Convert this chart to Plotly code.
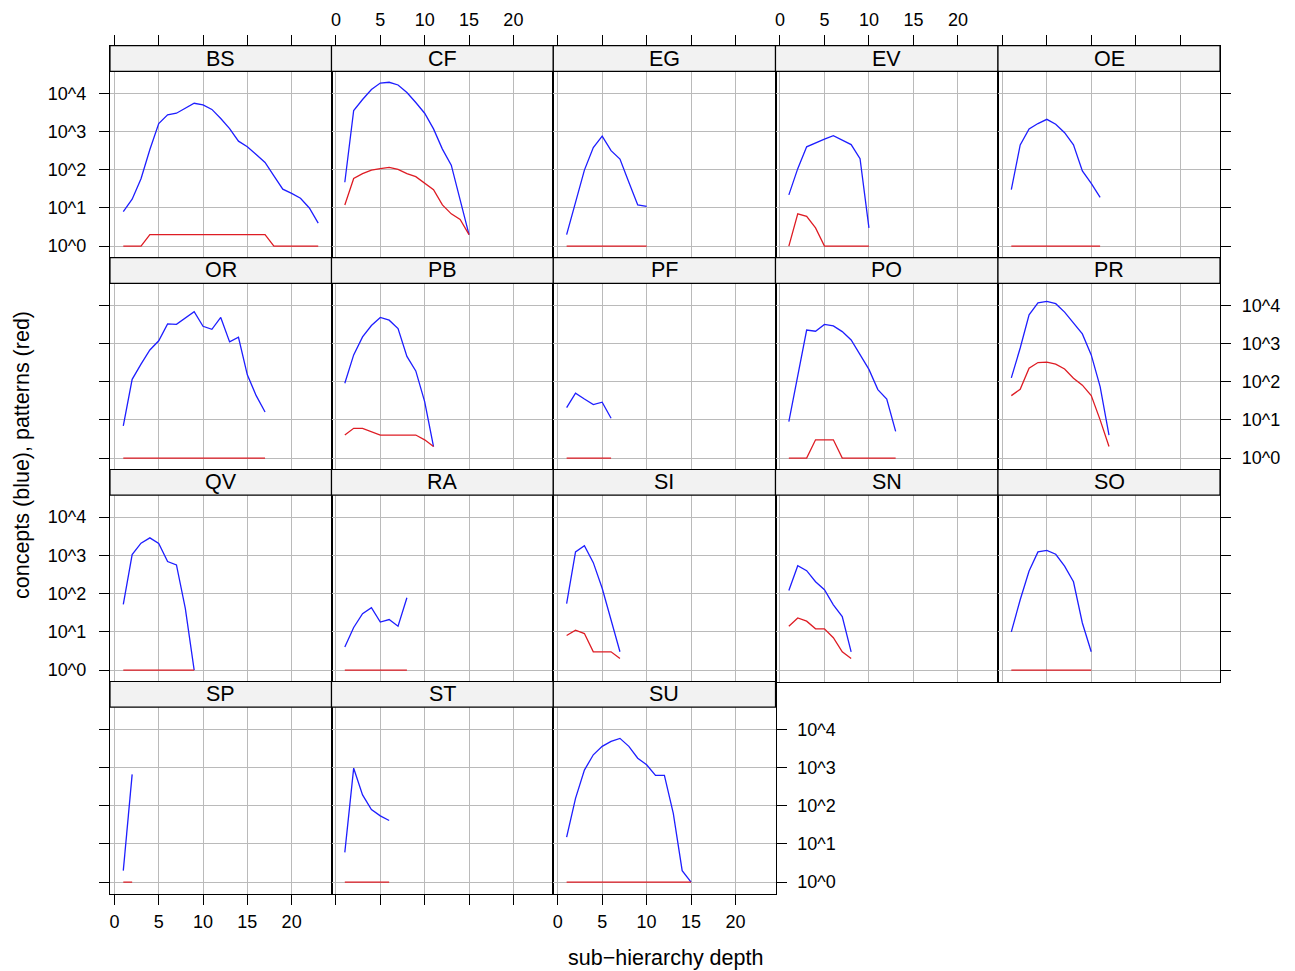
import plotly.graph_objects as go

W, H = 1295, 971

# ---------------- data (counts per sub-hierarchy depth 1..n) ----------------
panel_names = ["BS", "CF", "EG", "EV", "OE",
               "OR", "PB", "PF", "PO", "PR",
               "QV", "RA", "SI", "SN", "SO",
               "SP", "ST", "SU"]

BS_concepts = [8, 17, 58, 340, 1620, 2750, 3020, 4070, 5500, 5010, 3800, 2190, 1200, 560, 400, 250, 155, 69, 31, 24, 18, 10, 4]
BS_patterns = [1, 1, 1, 2, 2, 2, 2, 2, 2, 2, 2, 2, 2, 2, 2, 2, 2, 1, 1, 1, 1, 1, 1]
CF_concepts = [47, 3550, 6900, 12600, 18600, 19500, 16600, 10500, 5750, 3020, 1175, 347, 132, 17, 2]
CF_patterns = [12, 59, 79, 98, 107, 115, 102, 79, 66, 44, 30, 12, 7, 5, 2]
EG_concepts = [2, 14, 98, 380, 760, 316, 190, 47, 12, 11]
EG_patterns = [1, 1, 1, 1, 1, 1, 1, 1, 1, 1]
EV_concepts = [22, 107, 398, 513, 631, 776, 603, 457, 195, 3]
EV_patterns = [1, 7, 6, 3, 1, 1, 1, 1, 1, 1]
OE_concepts = [30, 447, 1175, 1620, 2090, 1550, 933, 447, 93, 44, 19]
OE_patterns = [1, 1, 1, 1, 1, 1, 1, 1, 1, 1, 1]
OR_concepts = [7, 115, 288, 676, 1175, 3240, 3160, 4680, 6760, 2820, 2340, 4790, 1100, 1450, 151, 43, 16]
OR_patterns = [1, 1, 1, 1, 1, 1, 1, 1, 1, 1, 1, 1, 1, 1, 1, 1, 1]
PB_concepts = [91, 501, 1480, 2950, 4790, 4070, 2450, 457, 191, 30, 2]
PB_patterns = [4, 6, 6, 5, 4, 4, 4, 4, 4, 3, 2]
PF_concepts = [21, 50, 35, 25, 29, 11]
PF_patterns = [1, 1, 1, 1, 1, 1]
PO_concepts = [9, 138, 2240, 2090, 3160, 2880, 2040, 1230, 513, 209, 62, 35, 5]
PO_patterns = [1, 1, 1, 3, 3, 3, 1, 1, 1, 1, 1, 1, 1]
PR_concepts = [126, 759, 5620, 11500, 12600, 11000, 6610, 3470, 1780, 501, 74, 4]
PR_patterns = [43, 63, 224, 316, 324, 288, 214, 123, 81, 43, 10, 2]
QV_concepts = [52, 1050, 2090, 2880, 2040, 692, 562, 41, 1]
QV_patterns = [1, 1, 1, 1, 1, 1, 1, 1, 1]
RA_concepts = [4, 13, 30, 43, 18, 21, 14, 78]
RA_patterns = [1, 1, 1, 1, 1, 1, 1, 1]
SI_concepts = [55, 1230, 1780, 646, 138, 21, 3]
SI_patterns = [8, 11, 9, 3, 3, 3, 2]
SN_concepts = [120, 537, 398, 204, 126, 51, 25, 3]
SN_patterns = [14, 23, 19, 12, 12, 7, 3, 2]
SO_concepts = [10, 69, 389, 1230, 1350, 1070, 525, 204, 17, 3]
SO_patterns = [1, 1, 1, 1, 1, 1, 1, 1, 1, 1]
SP_concepts = [2, 660]
SP_patterns = [1, 1]
ST_concepts = [6, 955, 191, 79, 54, 41]
ST_patterns = [1, 1, 1, 1, 1, 1]
SU_concepts = [15, 155, 851, 2140, 3550, 4790, 5750, 3550, 1740, 1175, 617, 617, 63, 2, 1]
SU_patterns = [1, 1, 1, 1, 1, 1, 1, 1, 1, 1, 1, 1, 1, 1, 1]

x_tick_vals = [0, 5, 10, 15, 20]
x_tick_text = ["0", "5", "10", "15", "20"]
y_tick_vals = [1, 10, 100, 1000, 10000]
y_tick_text = ["10^0", "10^1", "10^2", "10^3", "10^4"]

series = {
    "BS": (BS_concepts, BS_patterns), "CF": (CF_concepts, CF_patterns),
    "EG": (EG_concepts, EG_patterns), "EV": (EV_concepts, EV_patterns),
    "OE": (OE_concepts, OE_patterns), "OR": (OR_concepts, OR_patterns),
    "PB": (PB_concepts, PB_patterns), "PF": (PF_concepts, PF_patterns),
    "PO": (PO_concepts, PO_patterns), "PR": (PR_concepts, PR_patterns),
    "QV": (QV_concepts, QV_patterns), "RA": (RA_concepts, RA_patterns),
    "SI": (SI_concepts, SI_patterns), "SN": (SN_concepts, SN_patterns),
    "SO": (SO_concepts, SO_patterns), "SP": (SP_concepts, SP_patterns),
    "ST": (ST_concepts, ST_patterns), "SU": (SU_concepts, SU_patterns),
}

# ---------------- layout geometry (pixels) ----------------
col_left = [110, 331.5, 553.3, 775.5, 998]
col_right = [331.5, 553.3, 775.5, 998, 1220]
row_top = [45.7, 257.6, 469.5, 681.5]
row_bottom = [257.6, 469.5, 681.5, 893.6]
strip_h = 25.7
x_range = [-0.5, 24.5]
y_lo, y_hi = -0.3, 4.575  # log10 range of the panel area

FONT = "Liberation Sans, Arial, Helvetica, sans-serif"
BLUE = "rgb(30,30,255)"
RED = "rgb(222,28,36)"
GRID = "#bababa"
TICK_SIZE = 18

def px_x(p):
    return p / W

def px_y(p):
    return 1 - p / H

fig = go.Figure()
layout = dict(
    width=W, height=H, margin=dict(l=0, r=0, t=0, b=0),
    paper_bgcolor="white", plot_bgcolor="white", showlegend=False,
    font=dict(family=FONT, color="black"),
)
shapes = []
annotations = []

rows_count = [5, 5, 5, 3]
idx = 0
for r in range(4):
    for c in range(rows_count[r]):
        name = panel_names[idx]
        idx += 1
        n = idx
        xs = "" if n == 1 else str(n)
        conc, pat = series[name]
        depth = list(range(1, len(conc) + 1))
        fig.add_trace(go.Scatter(x=depth, y=conc, mode="lines",
                                 line=dict(color=BLUE, width=1.3),
                                 xaxis="x" + xs, yaxis="y" + xs, hoverinfo="skip"))
        fig.add_trace(go.Scatter(x=depth, y=pat, mode="lines",
                                 line=dict(color=RED, width=1.3),
                                 xaxis="x" + xs, yaxis="y" + xs, hoverinfo="skip"))

        panel_h = row_bottom[r] - row_top[r] - strip_h
        dec_per_px = (y_hi - y_lo) / panel_h
        y_top_ext = y_hi + strip_h * dec_per_px

        xa = dict(
            domain=[px_x(col_left[c]), px_x(col_right[c])],
            range=x_range, anchor="y" + xs,
            tickvals=x_tick_vals, ticktext=x_tick_text,
            showgrid=True, gridcolor=GRID, gridwidth=1.3, zeroline=False,
            showline=True, mirror=True, linecolor="black", linewidth=1.2,
            tickfont=dict(family=FONT, size=TICK_SIZE, color="black"),
            ticklen=10, tickwidth=1.2, tickcolor="black",
        )
        if r == 0:
            xa.update(side="top", ticks="outside", showticklabels=(c in (1, 3)),
                      ticklabelstandoff=1)
        elif r == 3:
            xa.update(side="bottom", ticks="outside", showticklabels=(c in (0, 2)),
                      ticklabelstandoff=2)
        else:
            xa.update(ticks="", showticklabels=False)

        ya = dict(
            domain=[px_y(row_bottom[r]), px_y(row_top[r])],
            type="log", range=[y_lo, y_top_ext], anchor="x" + xs,
            tickvals=y_tick_vals, ticktext=y_tick_text,
            showgrid=True, gridcolor=GRID, gridwidth=1.3, zeroline=False,
            showline=True, mirror=True, linecolor="black", linewidth=1.2,
            tickfont=dict(family=FONT, size=TICK_SIZE, color="black"),
            ticklen=10, tickwidth=1.2, tickcolor="black",
        )
        last = (c == rows_count[r] - 1)
        if c == 0:
            ya.update(side="left", ticks="outside", showticklabels=(r in (0, 2)),
                      ticklabelstandoff=9)
        elif last:
            ya.update(side="right", ticks="outside", showticklabels=(r in (1, 3)),
                      ticklabelstandoff=7)
        else:
            ya.update(ticks="", showticklabels=False)

        layout["xaxis" + xs] = xa
        layout["yaxis" + xs] = ya

        # strip
        shapes.append(dict(type="rect", xref="paper", yref="paper",
                           x0=px_x(col_left[c]), x1=px_x(col_right[c]),
                           y0=px_y(row_top[r] + strip_h), y1=px_y(row_top[r]),
                           fillcolor="#f2f2f2", line=dict(color="black", width=1.2),
                           layer="above"))
        annotations.append(dict(text=name, xref="paper", yref="paper",
                                x=px_x((col_left[c] + col_right[c]) / 2),
                                y=px_y(row_top[r] + strip_h / 2),
                                showarrow=False, xanchor="center", yanchor="middle",
                                font=dict(family=FONT, size=21.5, color="black")))

annotations.append(dict(text="sub\u2212hierarchy depth", xref="paper", yref="paper",
                        x=px_x(665), y=px_y(958), showarrow=False,
                        xanchor="center", yanchor="middle",
                        font=dict(family=FONT, size=21.5, color="black")))
annotations.append(dict(text="concepts (blue), patterns (red)", xref="paper", yref="paper",
                        x=px_x(22), y=px_y(455), showarrow=False, textangle=-90,
                        xanchor="center", yanchor="middle",
                        font=dict(family=FONT, size=21.5, color="black")))

layout["shapes"] = shapes
layout["annotations"] = annotations
fig.update_layout(**layout)

fig.write_html("out.html", config={"displayModeBar": False},
               post_script="document.body.style.margin='0px';document.body.style.overflow='hidden';")
